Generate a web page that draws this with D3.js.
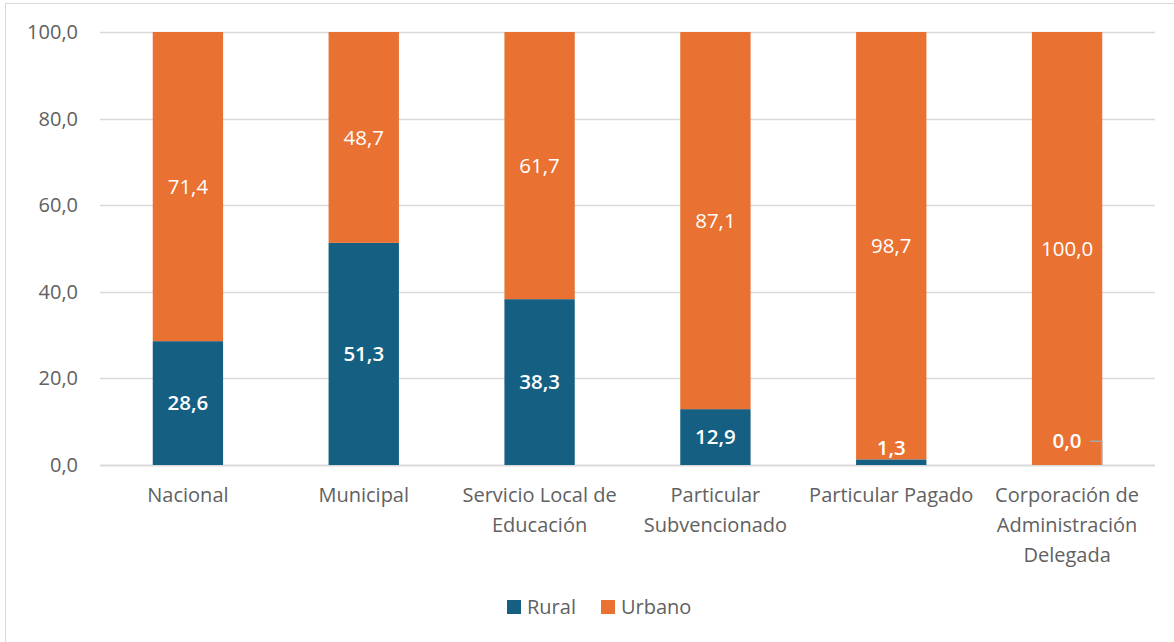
<!DOCTYPE html>
<html>
<head>
<meta charset="utf-8">
<script src="https://cdn.jsdelivr.net/npm/d3@7"></script>
<style>
  body { margin: 0; background: #fff; }
  text { font-family: "Open Sans", "Noto Sans", sans-serif; }
</style>
</head>
<body>
<script>
// data
var categories = [
    ["Nacional"],
    ["Municipal"],
    ["Servicio Local de", "Educación"],
    ["Particular", "Subvencionado"],
    ["Particular Pagado"],
    ["Corporación de", "Administración", "Delegada"]
];
var rural  = [28.6, 51.3, 38.3, 12.9, 1.3, 0.0];
var urbano = [71.4, 48.7, 61.7, 87.1, 98.7, 100.0];
// where a label was dragged away from the middle of its segment (value units)
var ruralLabelAt  = [null, null, null, null, 3.9, 5.5];
var urbanLabelAt  = [null, null, null, null, null, null];
var yTicks = [0, 20, 40, 60, 80, 100];
var seriesNames = ["Rural", "Urbano"];

var width = 1174,
    height = 642,
    plotLeft = 100, plotRight = 1155,
    plotTop = 32, plotBottom = 465,
    colors = ["#156082", "#E97132"],
    fmt = function(v) { return v.toFixed(1).replace(".", ","); };

var x = d3.scaleBand()
    .domain(d3.range(categories.length))
    .range([plotLeft, plotRight])
    .paddingInner(0.6)
    .paddingOuter(0.3);

var y = d3.scaleLinear().domain([0, 100]).range([plotBottom, plotTop]);

var svg = d3.select("body").append("svg")
    .attr("width", width)
    .attr("height", height);

// frame (only top and left visible)
svg.append("rect")
    .attr("x", 5.5).attr("y", 3.5)
    .attr("width", width + 10).attr("height", height + 10)
    .attr("fill", "none")
    .attr("stroke", "#d9d9d9");

// gridlines
svg.append("g")
    .selectAll("line")
    .data(yTicks)
    .enter().append("line")
    .attr("x1", plotLeft).attr("x2", plotRight)
    .attr("y1", function(d) { return Math.round(y(d)) + 0.5; })
    .attr("y2", function(d) { return Math.round(y(d)) + 0.5; })
    .attr("stroke", "#d9d9d9")
    .attr("stroke-width", function(d) { return d == 0 ? 2 : 1.5; });

// y tick labels
svg.append("g")
    .selectAll("text")
    .data(yTicks)
    .enter().append("text")
    .attr("x", 78)
    .attr("y", function(d) { return y(d); })
    .attr("dy", "0.35em")
    .attr("text-anchor", "end")
    .attr("font-size", 20)
    .attr("fill", "#616161")
    .text(fmt);

// stacked bars
var rows = categories.map(function(c, i) {
    return { i: i, rural: rural[i], urbano: urbano[i] };
});

var bars = svg.append("g");
bars.selectAll("rect.rural")
    .data(rows)
    .enter().append("rect")
    .attr("class", "rural")
    .attr("x", function(d) { return x(d.i); })
    .attr("width", x.bandwidth())
    .attr("y", function(d) { return y(d.rural); })
    .attr("height", function(d) { return y(0) - y(d.rural); })
    .attr("fill", colors[0]);

bars.selectAll("rect.urbano")
    .data(rows)
    .enter().append("rect")
    .attr("class", "urbano")
    .attr("x", function(d) { return x(d.i); })
    .attr("width", x.bandwidth())
    .attr("y", function(d) { return y(d.rural + d.urbano); })
    .attr("height", function(d) { return y(d.rural) - y(d.rural + d.urbano); })
    .attr("fill", colors[1]);

// data labels
var labels = svg.append("g").attr("font-size", 20.5).attr("fill", "#fff");

labels.selectAll("text.urb")
    .data(rows)
    .enter().append("text")
    .attr("class", "urb")
    .attr("x", function(d) { return x(d.i) + x.bandwidth() / 2; })
    .attr("y", function(d) {
        var at = urbanLabelAt[d.i];
        return y(at != null ? at : d.rural + d.urbano / 2);
    })
    .attr("dy", "0.35em")
    .attr("text-anchor", "middle")
    .text(function(d) { return fmt(d.urbano); });

labels.selectAll("text.rur")
    .data(rows)
    .enter().append("text")
    .attr("class", "rur")
    .attr("x", function(d) { return x(d.i) + x.bandwidth() / 2; })
    .attr("y", function(d) {
        var at = ruralLabelAt[d.i];
        return y(at != null ? at : d.rural / 2);
    })
    .attr("dy", "0.35em")
    .attr("text-anchor", "middle")
    .attr("font-weight", 600)
    .text(function(d) { return fmt(d.rural); });

// leader line for the zero label
var last = rows[rows.length - 1];
var lx = x(last.i) + x.bandwidth() / 2 + 23,
    ly = y(ruralLabelAt[last.i]),
    vx = x(last.i) + x.bandwidth() - 0.5;
svg.append("path")
    .attr("d", "M" + lx + "," + ly + "H" + vx + "V" + y(last.rural))
    .attr("fill", "none")
    .attr("stroke", "#a6a6a6")
    .attr("stroke-width", 1.5);

// category labels
svg.append("g")
    .selectAll("text")
    .data(categories)
    .enter().append("text")
    .attr("x", function(d, i) { return x(i) + x.bandwidth() / 2; })
    .attr("y", 502)
    .attr("text-anchor", "middle")
    .attr("font-size", 20)
    .attr("fill", "#616161")
    .each(function(lines) {
        var t = d3.select(this);
        lines.forEach(function(l, k) {
            t.append("tspan")
                .attr("x", t.attr("x"))
                .attr("dy", k == 0 ? 0 : 30)
                .text(l);
        });
    });

// legend
var legend = svg.append("g").attr("transform", "translate(507, 600)");
var item = legend.selectAll("g")
    .data(seriesNames)
    .enter().append("g")
    .attr("transform", function(d, i) { return "translate(" + (i * 94) + ",0)"; });
item.append("rect")
    .attr("width", 14).attr("height", 14)
    .attr("fill", function(d, i) { return colors[i]; });
item.append("text")
    .attr("x", 20)
    .attr("y", 7)
    .attr("dy", "0.35em")
    .attr("font-size", 20)
    .attr("fill", "#616161")
    .text(function(d) { return d; });
</script>
</body>
</html>
